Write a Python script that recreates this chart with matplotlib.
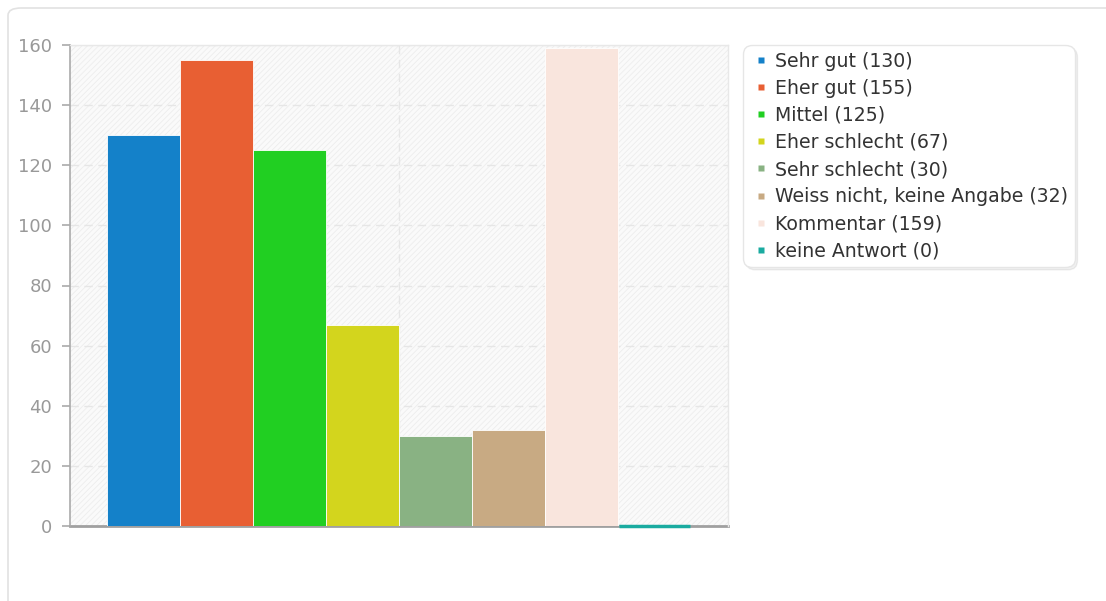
import matplotlib.pyplot as plt
from matplotlib.patches import FancyBboxPatch, Rectangle
from matplotlib.lines import Line2D

categories = ["Sehr gut", "Eher gut", "Mittel", "Eher schlecht", "Sehr schlecht",
              "Weiss nicht, keine Angabe", "Kommentar", "keine Antwort"]
counts = [130, 155, 125, 67, 30, 32, 159, 0]
colors = ["#1481c9", "#e85f33", "#21cf22", "#d3d51d", "#89b283",
          "#c8aa83", "#f9e5dd", "#1aaba0"]
y_ticks = [0, 20, 40, 60, 80, 100, 120, 140, 160]

plt.rcParams['font.family'] = ['DejaVu Sans']
plt.rcParams['hatch.linewidth'] = 0.6
plt.rcParams['hatch.color'] = '#ececec'

fig = plt.figure(figsize=(11.06, 6.01), dpi=100)

# outer card
card = FancyBboxPatch((8 / 1106, -0.05), 1.2, 1 - 8 / 601 + 0.05,
                      boxstyle="round,pad=0,rounding_size=0.012",
                      transform=fig.transFigure, facecolor='white',
                      edgecolor='#e2e2e2', linewidth=1.2, zorder=-10)
fig.patches.append(card)

ax = fig.add_axes([70 / 1106, 1 - 526 / 601, 658 / 1106, 481 / 601])
ax.set_facecolor('none')
ax.add_patch(Rectangle((0, 0), 1, 1, transform=ax.transAxes, facecolor='#fafafa',
                       hatch='//////', edgecolor='#ededed', linewidth=0, zorder=0))

n = len(counts)
group_w = 584 / 658
bar_w = group_w / n
start = -group_w / 2 + bar_w / 2
handles = []
for i, (cat, val, col) in enumerate(zip(categories, counts, colors)):
    x = start + i * bar_w
    if val == 0:
        ax.bar(x, val, width=bar_w * 0.97, color=col, edgecolor=col, linewidth=2.5,
               zorder=5, clip_on=False)
    else:
        ax.bar(x, val, width=bar_w, color=col, edgecolor='white', linewidth=0.6,
               zorder=3)
    handles.append(Line2D([], [], linestyle='none', marker='s', markersize=5,
                          markerfacecolor=col, markeredgecolor='none',
                          label=f"{cat} ({val})"))

ax.set_xlim(-0.5, 0.5)
ax.set_ylim(0, 160)
ax.set_yticks(y_ticks)
ax.set_xticks([0])
ax.set_xticklabels([])
ax.tick_params(axis='x', length=0)
ax.tick_params(axis='y', length=6, width=1.2, color='#aaaaaa', pad=7,
               labelsize=13, labelcolor='#999999')
ax.grid(True, color='#e6e6e6', linestyle=(0, (6, 4)), linewidth=1, zorder=1)
ax.set_axisbelow(True)

for s in ['top', 'right']:
    ax.spines[s].set_color('#e8e8e8')
    ax.spines[s].set_linewidth(1)
ax.spines['left'].set_color('#aaaaaa')
ax.spines['left'].set_linewidth(1.2)
ax.spines['bottom'].set_color('#a0a0a0')
ax.spines['bottom'].set_linewidth(2)
ax.spines['bottom'].set_zorder(2)

leg = fig.legend(handles=handles, loc='upper left',
                 bbox_to_anchor=(743 / 1106, 1 - 45 / 601),
                 frameon=True, fancybox=True,
                 shadow={'color': '#000000', 'alpha': 0.06},
                 fontsize=13.6, handlelength=1.2, handletextpad=0.15,
                 labelspacing=0.43, borderpad=0.35, labelcolor='#333333',
                 borderaxespad=0)
leg.get_frame().set_edgecolor('#e6e6e6')
leg.get_frame().set_linewidth(1)
leg.get_frame().set_boxstyle('round,pad=0,rounding_size=0.5')

fig.savefig('out.png', dpi=100)
